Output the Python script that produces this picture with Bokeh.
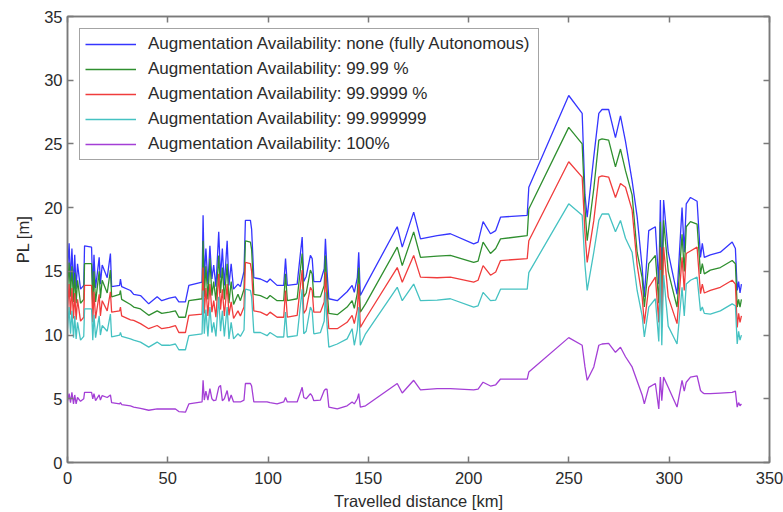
from bokeh.plotting import figure
from bokeh.models import Range1d, FixedTicker, LinearAxis, CustomJSTickFormatter, Legend
from bokeh.embed import file_html
from bokeh.resources import INLINE

distance_km = [
    0.0, 0.8, 1.5, 2.2, 3.0, 3.6, 4.3, 5.0, 6.5, 8.1,
    8.5, 12.0, 12.6, 13.2, 14.0, 15.8, 16.4, 17.3, 19.8, 21.4,
    22.0, 26.0, 26.4, 27.0, 31.4, 33.0, 36.4, 40.5, 44.7, 47.0,
    50.8, 53.8, 55.5, 58.8, 60.5, 67.1, 67.6, 68.2, 69.0, 70.0,
    71.0, 72.0, 72.9, 74.0, 75.4, 76.3, 77.2, 78.2, 79.6, 80.5,
    81.6, 82.8, 85.0, 86.2, 88.0, 88.7, 91.2, 91.8, 92.9, 96.2,
    99.5, 101.0, 104.5, 107.8, 108.7, 109.6, 114.5, 117.0, 117.8, 119.0,
    121.1, 122.0, 122.8, 126.1, 128.0, 128.6, 129.4, 130.3, 134.5, 139.4,
    141.9, 143.0, 144.5, 145.2, 146.0, 148.6, 164.4, 166.9, 172.6, 176.0,
    184.3, 190.9, 202.5, 204.7, 207.2, 210.9, 213.5, 215.9, 229.2, 230.0,
    249.9, 256.6, 258.0, 259.1, 262.4, 264.9, 266.5, 269.8, 273.2, 275.7,
    278.2, 281.5, 284.0, 286.5, 287.6, 289.8, 293.1, 294.8, 295.6, 296.3,
    297.2, 299.5, 303.9, 306.4, 307.5, 308.5, 310.6, 313.9, 315.6, 316.5,
    317.5, 320.5, 325.5, 331.4, 333.0, 333.9, 334.6, 335.3, 336.0,
]

pl_none = [
    15.0, 17.2, 14.2, 16.8, 13.8, 16.3, 13.6, 15.6, 13.6, 13.9,
    17.0, 16.9, 13.4, 16.3, 13.7, 16.1, 14.0, 15.5, 14.5, 16.4,
    13.8, 13.9, 14.4, 13.8, 13.5, 13.2, 13.1, 12.45, 13.0, 12.7,
    12.9, 13.0, 12.6, 12.6, 13.9, 14.15, 19.4, 14.3, 16.8, 14.0,
    17.0, 14.4, 15.5, 13.8, 18.1, 14.5, 16.8, 13.9, 17.4, 13.9,
    15.6, 13.6, 14.0, 13.8, 15.0, 19.0, 19.0, 18.3, 14.5, 14.4,
    14.15, 14.4, 13.9, 13.9, 16.0, 13.9, 14.0, 17.7, 14.2, 14.6,
    16.25, 16.0, 14.2, 14.2, 15.2, 17.55, 15.0, 12.85, 12.7, 13.4,
    13.9, 13.35, 14.5, 16.5, 13.1, 13.9, 18.5, 16.9, 19.65, 17.55,
    17.8, 17.95, 17.15, 17.3, 18.9, 17.95, 18.2, 19.25, 19.4, 21.6,
    28.8, 27.4, 21.0, 19.25, 24.0, 27.4, 27.7, 27.7, 25.5, 27.2,
    25.2, 22.1, 19.3, 15.3, 13.0, 18.2, 18.5, 14.0, 20.6, 14.0,
    20.6, 16.5, 13.2, 20.0, 16.5, 20.3, 20.8, 20.5, 16.1, 17.2,
    16.1, 16.3, 16.5, 17.3, 16.8, 13.5, 14.2, 13.3, 14.0,
]

pl_9999 = [
    13.5, 15.7, 13.0, 15.4, 12.6, 14.9, 12.5, 14.3, 12.5, 12.8,
    15.6, 15.6, 12.3, 15.0, 12.6, 15.0, 12.9, 14.3, 13.3, 15.1,
    13.0, 13.2, 13.5, 12.8, 12.4, 12.2, 12.05, 11.55, 11.9, 11.7,
    11.8, 11.9, 11.4, 11.4, 12.7, 12.85, 17.4, 13.0, 15.4, 12.8,
    16.0, 13.1, 14.2, 12.7, 16.25, 13.3, 15.3, 12.8, 15.6, 12.5,
    14.2, 12.4, 13.2, 12.7, 13.6, 17.4, 17.3, 16.7, 13.2, 13.1,
    12.85, 13.1, 12.7, 12.7, 14.8, 12.7, 12.85, 16.4, 13.0, 13.3,
    15.1, 14.8, 13.0, 13.0, 13.9, 16.25, 13.6, 11.7, 11.6, 12.2,
    12.7, 12.1, 13.3, 15.3, 11.8, 12.45, 16.9, 15.45, 18.1, 16.1,
    16.2, 16.25, 15.7, 15.8, 17.3, 16.4, 16.8, 17.55, 17.8, 19.9,
    26.3, 25.0, 20.0, 17.4, 21.5, 25.3, 25.4, 25.3, 23.2, 24.6,
    22.9, 21.0, 16.5, 14.5, 12.2, 15.6, 16.25, 12.5, 18.9, 12.0,
    19.0, 15.0, 12.2, 17.9, 15.0, 18.5, 18.9, 18.7, 14.8, 15.6,
    14.8, 15.1, 15.3, 15.85, 15.6, 12.2, 12.8, 12.2, 12.8,
]

pl_999999 = [
    12.0, 14.0, 11.6, 13.7, 11.3, 13.3, 11.2, 12.8, 11.1, 11.4,
    13.9, 13.9, 11.0, 13.4, 11.3, 13.2, 11.5, 12.7, 11.9, 13.4,
    11.8, 11.9, 12.2, 11.5, 11.2, 11.15, 10.9, 10.5, 10.75, 10.5,
    10.6, 10.75, 10.2, 10.2, 11.55, 11.65, 15.3, 11.7, 13.7, 11.5,
    14.0, 11.8, 12.7, 11.4, 14.8, 12.0, 13.6, 11.5, 14.0, 11.55,
    12.6, 11.3, 11.9, 11.5, 12.2, 15.7, 15.6, 15.0, 11.9, 11.8,
    11.55, 11.8, 11.4, 11.4, 13.5, 11.4, 11.55, 15.1, 11.7, 12.0,
    13.75, 13.5, 11.8, 11.8, 12.6, 14.95, 12.3, 10.5, 10.5, 11.0,
    11.55, 10.9, 12.0, 14.0, 10.6, 11.3, 15.3, 14.15, 16.25, 14.55,
    14.5, 14.55, 14.15, 14.3, 15.45, 14.7, 14.95, 15.85, 16.0, 17.4,
    23.6, 22.4, 18.0, 15.7, 19.0, 22.4, 22.5, 22.4, 20.8, 21.9,
    21.6, 19.8, 15.5, 13.0, 10.9, 13.75, 14.55, 11.0, 16.9, 10.6,
    16.9, 13.0, 10.9, 16.1, 13.5, 16.4, 16.6, 16.9, 13.25, 14.0,
    13.3, 13.5, 13.75, 14.3, 14.0, 10.6, 11.7, 11.0, 11.5,
]

pl_99999999 = [
    10.5, 12.2, 10.1, 11.9, 9.8, 11.5, 9.7, 11.0, 9.6, 9.9,
    12.05, 12.05, 9.6, 11.6, 9.8, 11.5, 10.0, 10.75, 10.3, 11.65,
    9.85, 10.0, 10.2, 9.9, 9.7, 9.6, 9.45, 9.05, 9.45, 9.2,
    9.2, 9.3, 8.85, 8.85, 9.95, 10.1, 13.5, 10.1, 12.0, 9.9,
    12.2, 10.2, 11.0, 9.9, 13.0, 10.3, 11.9, 9.9, 12.2, 9.7,
    11.0, 9.7, 10.1, 9.9, 10.4, 13.6, 13.5, 13.0, 10.2, 10.2,
    9.95, 10.2, 9.85, 9.85, 11.8, 9.85, 9.95, 13.6, 10.1, 10.3,
    12.2, 11.9, 10.1, 10.2, 11.1, 13.35, 10.8, 9.05, 9.3, 9.7,
    10.5, 9.2, 10.4, 12.2, 9.2, 10.1, 13.75, 12.7, 14.0, 12.7,
    12.75, 12.85, 12.2, 12.3, 13.35, 12.7, 12.75, 13.6, 13.6, 14.9,
    20.3, 19.4, 15.5, 13.5, 16.5, 19.0, 19.5, 19.5, 18.1, 19.0,
    17.6, 16.5, 13.5, 11.5, 9.85, 12.2, 12.85, 9.5, 15.1, 9.2,
    14.7, 10.7, 9.3, 13.75, 11.5, 14.0, 14.3, 14.55, 11.9, 12.2,
    11.7, 11.65, 11.9, 12.45, 12.3, 9.3, 10.3, 9.6, 10.0,
]

pl_100 = [
    4.8, 5.4, 4.7, 5.5, 4.6, 5.3, 4.6, 5.1, 4.8, 5.0,
    5.5, 5.5, 5.0, 5.4, 4.85, 5.3, 4.9, 5.25, 5.1, 5.3,
    4.7, 4.6, 4.7, 4.55, 4.45, 4.35, 4.25, 4.1, 4.2, 4.2,
    4.2, 4.2, 4.0, 3.95, 4.6, 4.75, 6.45, 4.9, 5.6, 4.9,
    5.8, 5.0, 4.85, 4.9, 5.9, 6.05, 4.85, 5.0, 5.65, 4.8,
    5.3, 4.75, 4.75, 4.75, 4.9, 6.2, 6.2, 6.0, 4.75, 4.75,
    4.75, 4.7, 4.6, 4.75, 5.1, 4.75, 4.75, 5.9, 5.1, 5.0,
    5.4, 5.2, 4.85, 4.9, 5.65, 5.75, 5.75, 4.35, 4.2, 4.45,
    4.75, 4.6, 5.0, 5.4, 4.35, 4.45, 6.2, 5.45, 6.45, 5.7,
    5.8, 5.8, 5.7, 5.75, 6.3, 6.0, 6.1, 6.55, 6.55, 7.1,
    9.8, 9.2, 7.5, 6.45, 7.5, 9.2, 9.3, 9.35, 8.65, 9.05,
    8.3, 7.5, 6.4, 5.3, 4.6, 5.9, 6.2, 4.2, 6.7, 4.85,
    6.7, 5.9, 4.35, 6.45, 5.6, 6.3, 6.7, 6.8, 5.65, 5.5,
    5.4, 5.4, 5.45, 5.5, 5.6, 4.35, 4.7, 4.45, 4.6,
]

series_labels = [
    "Augmentation Availability: none (fully Autonomous)",
    "Augmentation Availability: 99.99 %",
    "Augmentation Availability: 99.9999 %",
    "Augmentation Availability: 99.999999",
    "Augmentation Availability: 100%",
]
series_values = [pl_none, pl_9999, pl_999999, pl_99999999, pl_100]
series_colors = ["#3535ff", "#2f8f2f", "#f03c3c", "#45c2c2", "#a43fd6"]

x_ticks = [0, 50, 100, 150, 200, 250, 300, 350]
y_ticks = [0, 5, 10, 15, 20, 25, 30, 35]

FONT = "Liberation Sans"
TEXT = "#2b2b2b"
AXIS = "#7a7a7a"

p = figure(width=783, height=512, x_range=Range1d(0, 350), y_range=Range1d(0, 35),
           output_backend="svg", toolbar_location=None,
           min_border_left=67, min_border_right=14, min_border_top=16, min_border_bottom=50)
p.xgrid.visible = False
p.ygrid.visible = False
p.outline_line_color = AXIS
p.outline_line_width = 1.5
p.background_fill_color = "white"
p.border_fill_color = "white"

renderers = []
for lab, vals, col in zip(series_labels, series_values, series_colors):
    r = p.line(distance_km, vals, line_color=col, line_width=1.3)
    renderers.append((lab, [r]))

for ax, ticks in ((p.xaxis[0], x_ticks), (p.yaxis[0], y_ticks)):
    ax.ticker = FixedTicker(ticks=ticks)
    ax.major_tick_in = 6
    ax.major_tick_out = 0
    ax.minor_tick_line_color = None
    ax.axis_line_color = AXIS
    ax.axis_line_width = 1.5
    ax.major_tick_line_color = AXIS
    ax.major_tick_line_width = 1.5
    ax.major_label_text_font = FONT
    ax.major_label_text_font_size = "16.5px"
    ax.major_label_text_color = TEXT
    ax.axis_label_text_font = FONT
    ax.axis_label_text_font_size = "16.5px"
    ax.axis_label_text_font_style = "normal"
    ax.axis_label_text_color = TEXT

p.xaxis.axis_label = "Travelled distance [km]"
p.yaxis.axis_label = "PL [m]"
p.xaxis.major_label_standoff = 9
p.xaxis.axis_label_standoff = 5
p.yaxis.major_label_standoff = 5
p.yaxis.axis_label_standoff = 9

for loc, ticks in (("above", x_ticks), ("right", y_ticks)):
    ax = LinearAxis(ticker=FixedTicker(ticks=ticks),
                    formatter=CustomJSTickFormatter(code="return ''"),
                    major_label_text_font_size="0px", major_label_standoff=0,
                    major_tick_in=6, major_tick_out=0, minor_tick_line_color=None,
                    axis_line_color=AXIS, axis_line_width=1.5,
                    major_tick_line_color=AXIS, major_tick_line_width=1.5)
    p.add_layout(ax, loc)

legend = Legend(items=renderers, location="top_left", margin=12, padding=5, spacing=5,
                glyph_width=51, glyph_height=20, label_height=20, label_standoff=12,
                label_width=385, label_text_font=FONT, label_text_font_size="17px",
                label_text_color=TEXT, border_line_color="#4a4a4a", border_line_width=1.5,
                background_fill_color="white", background_fill_alpha=1.0)
p.add_layout(legend, "center")

open("out.html", "w").write(file_html(p, INLINE))
